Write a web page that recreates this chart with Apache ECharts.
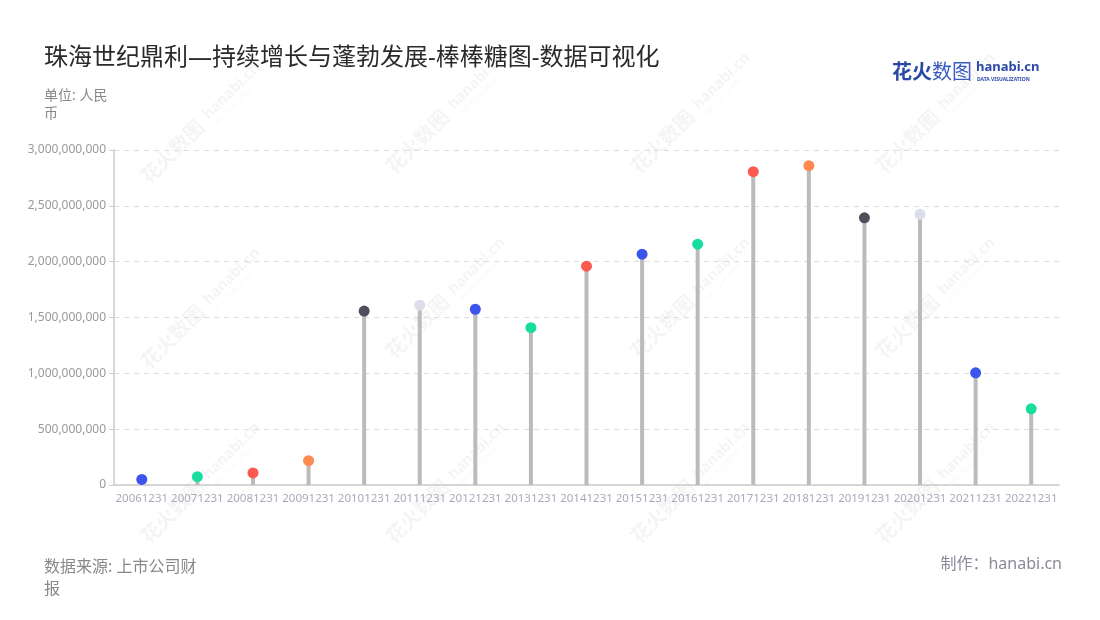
<!DOCTYPE html>
<html>
<head>
<meta charset="utf-8">
<script src="https://cdn.jsdelivr.net/npm/echarts@6/dist/echarts.min.js"></script>
<style>html,body{margin:0;padding:0;background:#fff}#c{width:1100px;height:620px}</style>
</head>
<body>
<div id="c"></div>
<script>
const categories = ['20061231','20071231','20081231','20091231','20101231','20111231','20121231','20131231','20141231','20151231','20161231','20171231','20181231','20191231','20201231','20211231','20221231'];
const values = [50000000, 75000000, 108000000, 218000000, 1558000000, 1610000000, 1574000000, 1409000000, 1960000000, 2067000000, 2157000000, 2806000000, 2860000000, 2393000000, 2424000000, 1005000000, 682000000];
const pointColors = ['#3a54ec','#18dd9f','#fb5a4f','#fd8a50','#4e4f5c','#dcdfea','#3a54ec','#18dd9f','#fb5a4f','#3a54ec','#18dd9f','#fb5a4f','#fd8a50','#4e4f5c','#dcdfea','#3a54ec','#18dd9f'];
const yTicks = {min: 0, max: 3000000000, interval: 500000000};

const FF = '"Noto Sans", "Noto Sans CJK SC", sans-serif';
const chart = echarts.init(document.getElementById('c'), null, {renderer: 'canvas'});

function fmt(v){ return String(v).replace(/\B(?=(\d{3})+(?!\d))/g, ','); }

const wmCenters = [[180,145],[425,135],[670,135],[915,135],[180,330],[425,320],[670,320],[915,320],[425,505],[670,505],[915,505],[180,505]];
const WM = 'rgba(0,0,0,0.045)';
const watermarks = wmCenters.map(c => ({
  type: 'group', x: c[0], y: c[1], rotation: Math.PI/4, z: -10, silent: true,
  children: [
    {type:'text', x: -50, y: -11, style:{text:'花火数图', font:'bold 20px "Noto Sans CJK SC"', fill:WM}},
    {type:'text', x: 38, y: -9, style:{text:'hanabi.cn', font:'bold 15px "Noto Sans"', fill:WM}},
    {type:'text', x: 40, y: 8, style:{text:'DATA VISUALIZATION', font:'5px "Noto Sans"', fill:WM}}
  ]
}));

const option = {
  backgroundColor: '#fff',
  textStyle: {fontFamily: FF},
  title: {
    text: '珠海世纪鼎利—持续增长与蓬勃发展-棒棒糖图-数据可视化',
    left: 39, top: 41,
    textStyle: {fontSize: 24, fontWeight: 'normal', color: '#2a2a2a', fontFamily: FF}
  },
  grid: {left: 114, right: 41, top: 150, bottom: 135},
  xAxis: {
    type: 'category', data: categories,
    axisLine: {lineStyle: {color: '#ccc', width: 1.5}},
    axisTick: {alignWithLabel: true, lineStyle: {color: '#bbb'}},
    axisLabel: {color: '#aab', fontSize: 11.5, interval: 0, margin: 8, fontFamily: FF}
  },
  yAxis: {
    type: 'value', min: yTicks.min, max: yTicks.max, interval: yTicks.interval,
    axisLine: {show: true, lineStyle: {color: '#ccc', width: 1.5}},
    axisTick: {show: true, lineStyle: {color: '#ccc'}},
    axisLabel: {color: '#999', fontSize: 12, formatter: fmt, fontFamily: FF},
    splitLine: {lineStyle: {type: [5, 5], color: '#ddd'}}
  },
  series: [
    {
      type: 'bar', data: values, barWidth: 4, silent: true,
      itemStyle: {color: '#bbbbbb'}, z: 2
    },
    {
      type: 'scatter', data: values.map((v, i) => ({value: v, itemStyle: {color: pointColors[i], opacity: 1}})),
      symbolSize: 11, z: 3, itemStyle: {opacity: 1}
    }
  ],
  graphic: [
    ...watermarks,
    {type:'text', left: 44, top: 87, style:{text:'单位: 人民\n币', font:'14px ' + FF, fill:'#888', lineHeight: 18}},
    {type:'text', left: 44, top: 556, style:{text:'数据来源: 上市公司财\n报', font:'16px ' + FF, fill:'#888', lineHeight: 22}},
    {type:'text', right: 38, top: 556, style:{text:'制作：hanabi.cn', font:'16px ' + FF, fill:'#8a8a99'}},
    {type:'text', left: 892, top: 61, style:{text:'花火', font:'bold 20px "Noto Sans CJK SC"', fill:'#2b4aa6'}},
    {type:'text', left: 932, top: 61, style:{text:'数图', font:'20px "Noto Sans CJK SC"', fill:'#3a5bc0'}},
    {type:'text', left: 976, top: 61, style:{text:'hanabi.cn', font:'bold 13px "Noto Sans"', fill:'#2b4aa6'}},
    {type:'text', left: 977, top: 77, style:{text:'DATA VISUALIZATION', font:'bold 5px "Noto Sans"', fill:'#2b4aa6'}}
  ]
};
chart.setOption(option);
</script>
</body>
</html>
